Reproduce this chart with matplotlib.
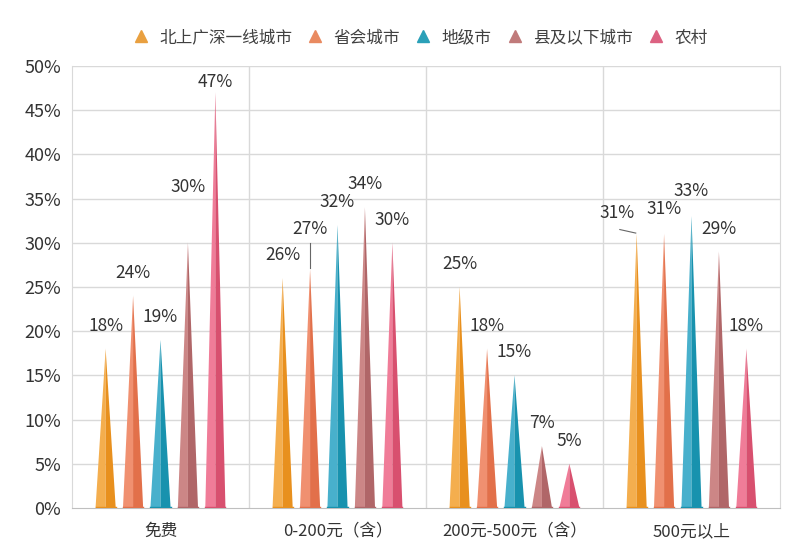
import matplotlib
matplotlib.use("Agg")
import matplotlib.pyplot as plt
import numpy as np
from matplotlib.lines import Line2D

plt.rcParams['font.family'] = ['Noto Sans CJK SC', 'DejaVu Sans']

categorias = ['免费', '0-200元（含）', '200元-500元（含）', '500元以上']
series = ['北上广深一线城市', '省会城市', '地级市', '县及以下城市', '农村']
tier1 = [18, 26, 25, 31]
provincial = [24, 27, 18, 31]
prefecture = [19, 32, 15, 33]
county = [30, 34, 7, 29]
rural = [47, 30, 5, 18]
valores = [tier1, provincial, prefecture, county, rural]

# colores: (claro, oscuro, leyenda)
colores = [('#F4AE4E', '#E8901E', '#E9A040'),
           ('#F09070', '#E2704A', '#E98A60'),
           ('#48B0CC', '#1892AE', '#2AA0B8'),
           ('#CC8686', '#B06668', '#C07A7A'),
           ('#F07C98', '#D8506F', '#DC6282')]

# ajustes de etiquetas (serie, grupo): (dx en unidades de grupo, dy en %)
dy_default = 2.6
ajustes = {(3, 0): (0, 6.3), (4, 0): (0, 1.2), (1, 1): (0, 4.6),
           (0, 3): (-0.11, 2.4), (1, 3): (0, 2.8), (2, 3): (0, 2.9)}

fig = plt.figure(figsize=(8, 5.56), dpi=100)
ax = fig.add_axes([0.09, 0.0863, 0.885, 0.795])

paso = 0.155
ancho = 0.057
x = np.arange(len(categorias))

for j, vals in enumerate(valores):
    claro, oscuro, _ = colores[j]
    for i, v in enumerate(vals):
        cx = x[i] + (j - 2) * paso
        ax.fill([cx - ancho, cx, cx], [0, v, 0], color=claro, lw=0, zorder=3)
        ax.fill([cx, cx, cx + ancho], [0, v, 0], color=oscuro, lw=0, zorder=3)
        ax.plot([cx - ancho, cx + ancho], [0.1, 0.1], color=oscuro, lw=1, zorder=4)
        dx, dy = ajustes.get((j, i), (0, dy_default))
        ax.text(cx + dx, v + dy, f'{v}%', ha='center', va='center',
                fontsize=12.5, color='#333333', zorder=5)
        if (j, i) == (1, 1):
            ax.plot([cx, cx], [v + 0.2, v + 3.0], color='#666666', lw=0.8, zorder=5)
        if (j, i) == (0, 3):
            ax.plot([cx - 0.095, cx - 0.005], [v + 0.5, v + 0.1], color='#666666', lw=0.8, zorder=5)

ax.set_xlim(-0.5, 3.5)
ax.set_ylim(0, 50)
ax.set_yticks(np.arange(0, 51, 5))
ax.set_yticklabels([f'{t}%' for t in range(0, 51, 5)])
ax.set_xticks(x)
ax.set_xticklabels(categorias)
ax.tick_params(axis='y', length=0, labelsize=13, labelcolor='#333333', pad=8)
ax.tick_params(axis='x', length=0, labelsize=12, labelcolor='#333333', pad=11)

for t in range(5, 51, 5):
    ax.axhline(t, color='#D9D9D9', lw=1, zorder=1)
for b in [0.5, 1.5, 2.5]:
    ax.axvline(b, color='#D9D9D9', lw=1, zorder=1)

ax.spines['top'].set_visible(False)
ax.spines['left'].set_color('#D9D9D9')
ax.spines['right'].set_color('#D9D9D9')
ax.spines['bottom'].set_color('#BFBFBF')

handles = [Line2D([], [], marker='^', ls='none', color=c[2], markersize=8)
           for c in colores]
fig.legend(handles, series, loc='center', bbox_to_anchor=(0.52, 0.932), ncol=5,
           frameon=False, fontsize=12, handletextpad=0.1, columnspacing=0.4,
           labelcolor='#404040')

fig.savefig('out.png', dpi=100, facecolor='white')
